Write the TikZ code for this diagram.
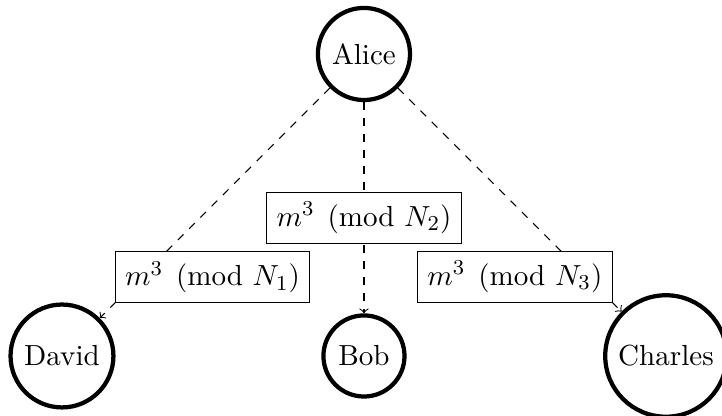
\documentclass[11pt,tikz,border=0pt]{standalone}
\usepackage{amsmath}
\usepackage{tikz}
\usetikzlibrary{shapes.geometric, arrows}
\tikzstyle{party} = [circle, draw=black, ultra thick, text centered]
\tikzstyle{msgbox} = [rectangle, solid, draw=black, fill=white, text centered]
\tikzstyle{arrow} = [dashed,->]
\begin{document}
\begin{tikzpicture}[node distance=4cm]
\useasboundingbox (-4.821,0.715) rectangle (4.742,-4.795);
\node (alice) [party] {Alice};
\node (bob) [party, below of=alice] {Bob};
\node (david) [party, left of=bob] {David};
\node (charles) [party, right of=bob] {Charles};

\draw [arrow] (alice) -- node[msgbox, pos=0.935, anchor=south west]
   {$m^3 \pmod{N_1}$} (david);
\draw [arrow] (alice) -- node[msgbox, pos=0.547]
   {$m^3 \pmod{N_2}$} (bob);
\draw [arrow] (alice) -- node[msgbox, pos=0.96, anchor=south east]
   {$m^3 \pmod{N_3}$} (charles);

\end{tikzpicture}
\end{document}
